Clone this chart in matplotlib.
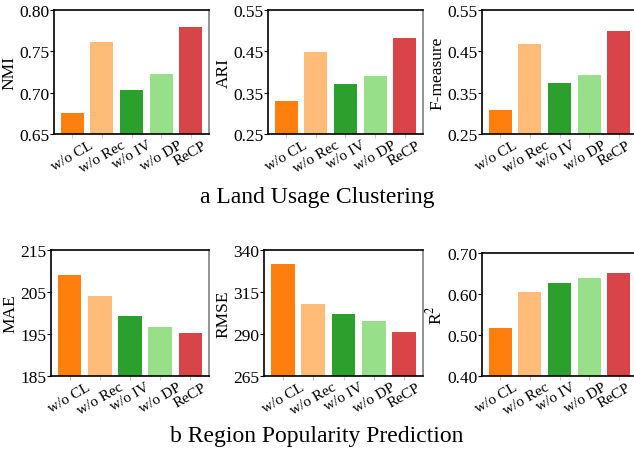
import matplotlib

matplotlib.use("Agg")
import matplotlib.pyplot as plt
from matplotlib.transforms import ScaledTranslation

plt.rcParams["font.family"] = ["Liberation Serif", "DejaVu Serif"]
plt.rcParams["mathtext.fontset"] = "stix"

variants = ["w/o CL", "w/o Rec", "w/o IV", "w/o DP", "ReCP"]
colors = ["#ff7f0e", "#ffbb78", "#2ca02c", "#98df8a", "#d84448"]

nmi = [0.675, 0.761, 0.703, 0.723, 0.779]
ari = [0.330, 0.449, 0.371, 0.390, 0.482]
fmeasure = [0.308, 0.468, 0.373, 0.393, 0.499]
mae = [209.0, 204.0, 199.2, 196.6, 195.2]
rmse = [331.5, 307.7, 301.7, 297.5, 291.0]
r2 = [0.516, 0.606, 0.628, 0.640, 0.652]

panels = [
    (nmi, "NMI", (0.65, 0.80), [0.65, 0.70, 0.75, 0.80], "{:.2f}"),
    (ari, "ARI", (0.25, 0.55), [0.25, 0.35, 0.45, 0.55], "{:.2f}"),
    (fmeasure, "F-measure", (0.25, 0.55), [0.25, 0.35, 0.45, 0.55], "{:.2f}"),
    (mae, "MAE", (185, 215), [185, 195, 205, 215], "{:.0f}"),
    (rmse, "RMSE", (265, 340), [265, 290, 315, 340], "{:.0f}"),
    (r2, "R$^2$", (0.40, 0.70), [0.40, 0.50, 0.60, 0.70], "{:.2f}"),
]

W, H = 634, 456
fig = plt.figure(figsize=(W / 100, H / 100), dpi=100)

# axes boxes in pixels: left, top, right, bottom
boxes = [
    (54, 11, 209, 135),
    (268, 11, 423, 135),
    (482, 11, 637, 135),
    (51, 251, 209, 377),
    (264, 251, 423, 377),
    (482, 254, 637, 377),
]

for i, ((vals, label, ylim, ticks, fmt), (l, t, r, b)) in enumerate(zip(panels, boxes)):
    ax = fig.add_axes([l / W, 1 - b / H, (r - l) / W, (b - t) / H])
    x = list(range(len(variants)))
    ax.bar(x, vals, width=0.78, color=colors, zorder=2)
    ax.set_xlim(-0.62, 4.62)
    ax.set_ylim(*ylim)
    ax.set_yticks(ticks)
    ax.set_yticklabels([fmt.format(v) for v in ticks], fontsize=12.5)
    ax.set_xticks(x)
    ax.set_xticklabels(variants, rotation=30, ha="center", fontsize=11)
    ax.set_ylabel(label, fontsize=12.5, labelpad=1)
    ax.tick_params(axis="y", length=3, pad=0.5)
    ax.tick_params(axis="x", length=3, color="#cccccc", pad=0)
    for side in ["left", "bottom", "top"]:
        ax.spines[side].set_color("black")
        ax.spines[side].set_linewidth(1.2)
    ax.spines["right"].set_color("#808080")
    ax.spines["right"].set_linewidth(1.2)
    if i % 3 == 2:
        # keep the last label inside the cropped right edge
        shift = ScaledTranslation(-4 / 100, 0, fig.dpi_scale_trans)
        for lab in ax.get_xticklabels():
            lab.set_transform(lab.get_transform() + shift)

fig.text(317 / W, 1 - 197 / H, "a Land Usage Clustering", ha="center", va="center", fontsize=17)
fig.text(317 / W, 1 - 437 / H, "b Region Popularity Prediction", ha="center", va="center", fontsize=17)

fig.savefig("out.png", dpi=100)
